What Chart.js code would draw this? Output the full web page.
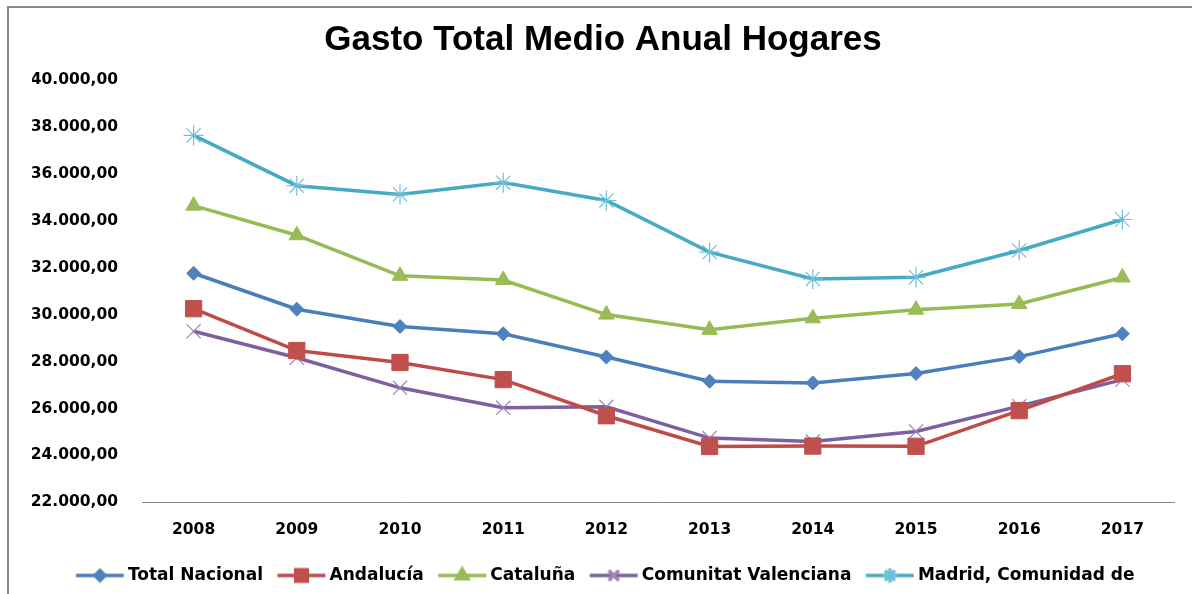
<!DOCTYPE html>
<html>
<head>
<meta charset="utf-8">
<script src="https://cdn.jsdelivr.net/npm/chart.js@4.4.1/dist/chart.umd.min.js"></script>
<style>
  html, body { margin: 0; padding: 0; background: #fff; }
  #wrap { position: relative; width: 1192px; height: 594px; }
</style>
</head>
<body>
<div id="wrap"><canvas id="gastoChart" width="1192" height="594"></canvas></div>
<script>
// Datos
const years = ['2008', '2009', '2010', '2011', '2012', '2013', '2014', '2015', '2016', '2017'];
const totalNacional = [31760, 30230, 29490, 29180, 28190, 27160, 27090, 27490, 28210, 29180];
const andalucia = [30250, 28470, 27960, 27230, 25690, 24380, 24400, 24390, 25910, 27480];
const cataluna = [34640, 33380, 31650, 31470, 30000, 29350, 29840, 30210, 30450, 31580];
const valenciana = [29290, 28160, 26880, 26030, 26070, 24740, 24590, 25020, 26100, 27230];
const madrid = [37630, 35490, 35120, 35620, 34860, 32660, 31520, 31590, 32730, 34050];
const yTickLabels = ['22.000,00', '24.000,00', '26.000,00', '28.000,00', '30.000,00',
                     '32.000,00', '34.000,00', '36.000,00', '38.000,00', '40.000,00'];

const series = [
    { label: 'Total Nacional', data: totalNacional, line: '#4A7EBB', mark: '#4F81BD', style: 'rectRot', radius: 7, bw: 1 },
    { label: 'Andalucía', data: andalucia, line: '#BE4B48', mark: '#C0504D', style: 'rect', radius: 11.5, bw: 1 },
    { label: 'Cataluña', data: cataluna, line: '#98B954', mark: '#9BBB59', style: 'triangle', radius: 9, bw: 1 },
    { label: 'Comunitat Valenciana', data: valenciana, line: '#7D60A0', mark: '#9A84BA', style: 'crossRot', radius: 10, bw: 1.2 },
    { label: 'Madrid, Comunidad de', data: madrid, line: '#46AAC5', mark: '#6FC0D6', style: 'star', radius: 10, bw: 1.2 }
];

// Icono de leyenda: línea con marcador (como en Excel)
const legendIcons = series.map(s => {
    const c = document.createElement('canvas');
    c.width = 58;
    c.height = 22;
    const g = c.getContext('2d');
    g.strokeStyle = s.line;
    g.lineWidth = 3.5;
    g.beginPath();
    g.moveTo(9.5, 11);
    g.lineTo(57.5, 11);
    g.stroke();
    g.fillStyle = s.mark;
    g.strokeStyle = s.mark;
    Chart.helpers.drawPoint(g, { pointStyle: s.style, radius: s.radius * 0.72, rotation: 0, borderWidth: s.bw }, 33.5, 11);
    return c;
});

const chartBorder = {
    id: 'chartBorder',
    beforeDraw(chart) {
        const ctx = chart.ctx;
        ctx.save();
        ctx.strokeStyle = '#8a8a8a';
        ctx.lineWidth = 2;
        ctx.beginPath();
        ctx.moveTo(8, chart.height);
        ctx.lineTo(8, 7);
        ctx.lineTo(chart.width, 7);
        ctx.stroke();
        ctx.restore();
    }
};

const tickFont = { family: 'DejaVu Sans', weight: 'bold', size: 15.5 };

new Chart(document.getElementById('gastoChart').getContext('2d'), {
    type: 'line',
    data: {
        labels: years,
        datasets: series.map(s => ({
            label: s.label,
            data: s.data,
            borderColor: s.line,
            backgroundColor: s.mark,
            borderWidth: 3.5,
            pointStyle: s.style,
            pointRadius: s.radius,
            pointBackgroundColor: s.mark,
            pointBorderColor: s.mark,
            pointBorderWidth: s.bw,
            tension: 0,
            fill: false
        }))
    },
    options: {
        responsive: false,
        animation: false,
        layout: { padding: { left: 32, right: 18, top: 0, bottom: 0 } },
        plugins: {
            title: {
                display: true,
                text: 'Gasto Total Medio Anual Hogares',
                color: '#000',
                font: { family: 'Liberation Sans', weight: 'bold', size: 35 },
                padding: { top: 19.5, bottom: 18.3 }
            },
            legend: {
                position: 'bottom',
                labels: {
                    usePointStyle: true,
                    pointStyleWidth: 48,
                    color: '#000',
                    padding: 10,
                    font: { family: 'DejaVu Sans', weight: 'bold', size: 17 },
                    generateLabels(chart) {
                        const items = Chart.defaults.plugins.legend.labels.generateLabels(chart);
                        items.forEach((it, i) => { it.pointStyle = legendIcons[i]; });
                        return items;
                    }
                }
            },
            tooltip: { enabled: false }
        },
        scales: {
            x: {
                offset: true,
                grid: { display: false, drawTicks: false },
                border: { display: true, color: '#868686', width: 1 },
                ticks: { color: '#000', font: tickFont, padding: 18 }
            },
            y: {
                min: 22000,
                max: 40000,
                grid: { display: false, drawTicks: false },
                border: { display: false },
                ticks: {
                    stepSize: 2000,
                    color: '#000',
                    font: tickFont,
                    padding: 24,
                    callback: (v, i) => yTickLabels[i]
                },
                afterFit(scale) { scale.width = 110; }
            }
        }
    },
    plugins: [chartBorder]
});
</script>
</body>
</html>
